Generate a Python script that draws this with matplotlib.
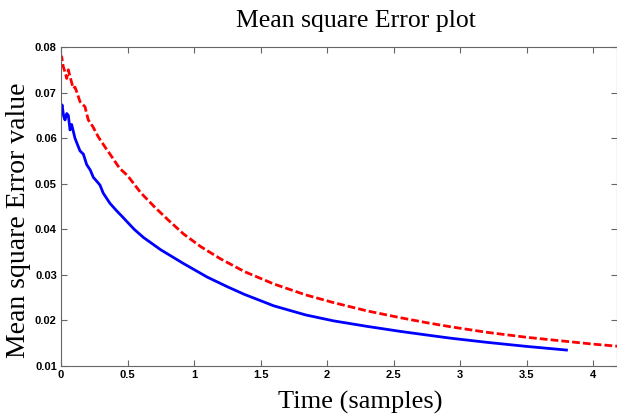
import numpy as np
import matplotlib
matplotlib.use("Agg")
import matplotlib.pyplot as plt

# ---- data ----
blue_x = [0.0, 0.008, 0.02, 0.03, 0.043, 0.055, 0.068, 0.08, 0.105, 0.125, 0.143,
          0.168, 0.193, 0.22, 0.243, 0.27, 0.293, 0.318, 0.368, 0.42, 0.46, 0.55,
          0.62, 0.75, 0.92, 1.1, 1.25, 1.38, 1.6, 1.84, 2.05, 2.3, 2.55, 2.75,
          2.93, 3.2, 3.5, 3.8]
blue_y = [0.0660, 0.0673, 0.0648, 0.0640, 0.0654, 0.0650, 0.0618, 0.0630, 0.0600,
          0.0585, 0.0572, 0.0565, 0.0542, 0.0530, 0.0514, 0.0505, 0.0497, 0.0479,
          0.0457, 0.0440, 0.0428, 0.0400, 0.0382, 0.0355, 0.0325, 0.0295, 0.0274,
          0.0257, 0.0232, 0.0212, 0.0199, 0.0187, 0.0176, 0.0168, 0.0161, 0.0152,
          0.0143, 0.0135]

red_x = [0.0, 0.005, 0.017, 0.03, 0.043, 0.055, 0.068, 0.08, 0.092, 0.105, 0.118,
         0.143, 0.18, 0.205, 0.24, 0.28, 0.33, 0.38, 0.44, 0.5, 0.6, 0.7, 0.8,
         0.92, 1.05, 1.2, 1.38, 1.6, 1.84, 2.05, 2.3, 2.55, 2.75, 2.93, 3.2, 3.5,
         3.8, 4.0, 4.2]
red_y = [0.0772, 0.0779, 0.0757, 0.0745, 0.0731, 0.0750, 0.0735, 0.0722, 0.0709,
         0.0712, 0.0702, 0.0680, 0.0669, 0.0640, 0.0625, 0.0603, 0.0581, 0.0560,
         0.0534, 0.0518, 0.0480, 0.0450, 0.0422, 0.0390, 0.0362, 0.0335, 0.0307,
         0.0280, 0.0256, 0.0239, 0.0221, 0.0206, 0.0195, 0.0186, 0.0174, 0.0163,
         0.0154, 0.0148, 0.0143]

xticks = [0, 0.5, 1, 1.5, 2, 2.5, 3, 3.5, 4]
yticks = [0.01, 0.02, 0.03, 0.04, 0.05, 0.06, 0.07, 0.08]

fig = plt.figure(figsize=(6.17, 4.18), dpi=100)
ax = fig.add_axes([61 / 617, 52 / 418, 556 / 617, 319 / 418])

ax.plot(blue_x, blue_y, color="blue", linewidth=2)
ax.plot(red_x, red_y, color="red", linewidth=2, linestyle=(0, (2.8, 1.1)))

ax.set_xlim(0, 4.18)
ax.set_ylim(0.01, 0.08)
ax.set_xticks(xticks)
ax.set_xticklabels([f"{t:g}" for t in xticks])
ax.set_yticks(yticks)
ax.set_yticklabels([f"{t:.2f}" for t in yticks])
ax.tick_params(direction="in", top=True, right=True, length=4, width=0.8,
               color="#666666", labelsize=8, pad=3)
for lab in ax.get_xticklabels() + ax.get_yticklabels():
    lab.set_fontweight("bold")
    lab.set_fontfamily("Liberation Sans")
for sp in ax.spines.values():
    sp.set_color("#666666")
    sp.set_linewidth(0.8)

fig.text(356 / 617, 1 - 21 / 418, "Mean square Error plot", ha="center", va="center",
         fontsize=18.5, family="Liberation Serif")
fig.text(360 / 617, 1 - 402 / 418, "Time (samples)", ha="center", va="center",
         fontsize=19, family="Liberation Serif")
fig.text(19 / 617, 1 - 220 / 418, "Mean square Error value", ha="center", va="center",
         rotation=90, fontsize=20, family="Liberation Serif")

plt.savefig("out.png", dpi=100)
